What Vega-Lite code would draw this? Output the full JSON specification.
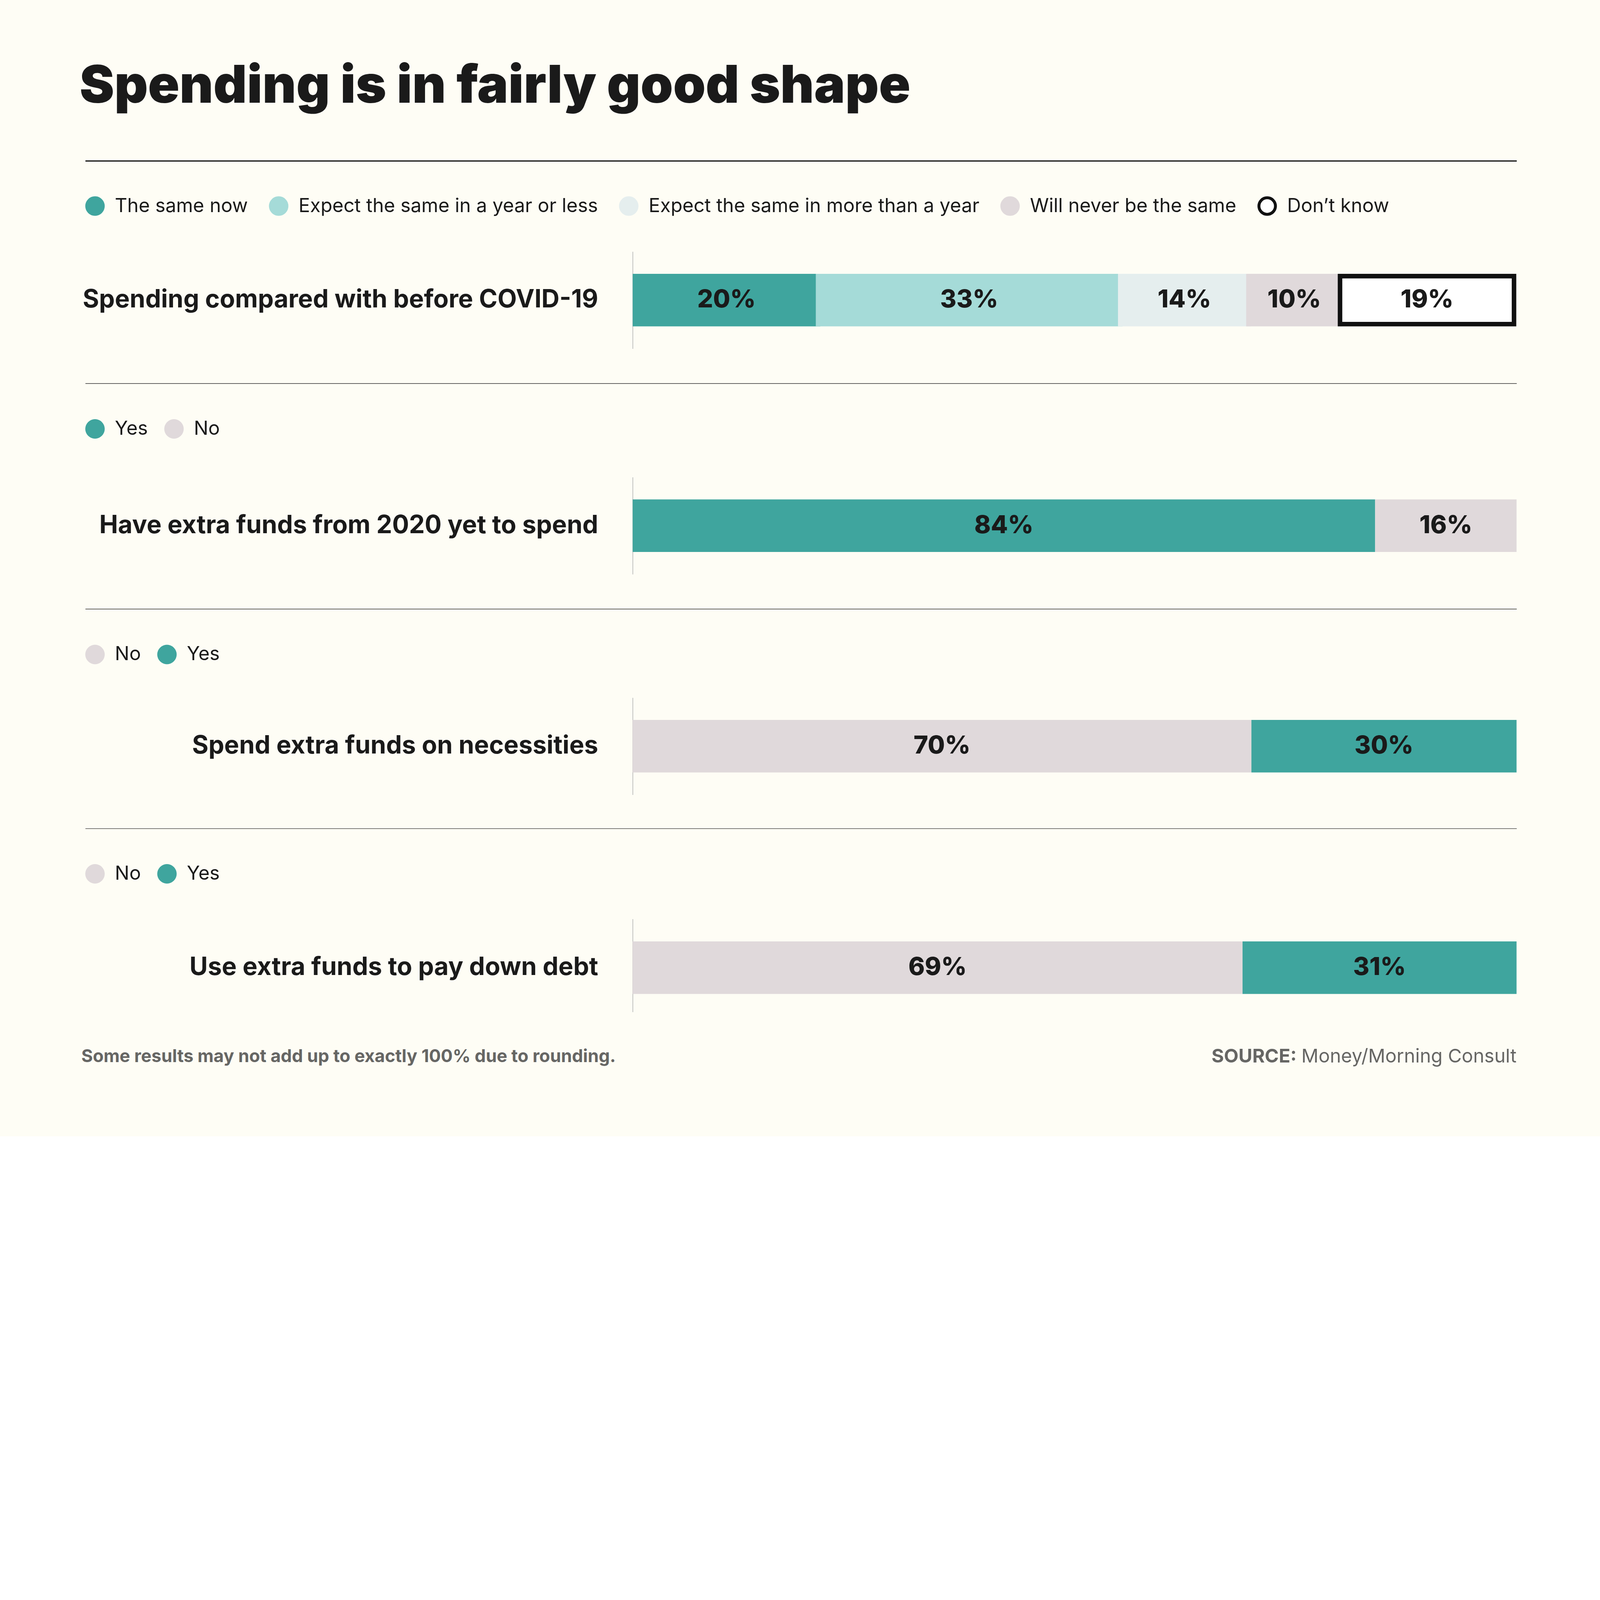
{
  "$schema": "https://vega.github.io/schema/vega-lite/v6.json",
  "background": "#fefdf5",
  "padding": {"left": 203.2, "right": 218, "top": 155.6, "bottom": 178},
  "title": {"text": "Spending is in fairly good shape", "anchor": "start", "frame": "bounds", "font": "Inter", "fontSize": 133.4, "fontWeight": 900, "color": "#1a1a1a", "offset": 118.8, "dx": -4.4},
  "datasets": {
    "survey": [
      {"question": "Spending compared with before COVID-19", "answer": "The same now", "value": 20},
      {"question": "Spending compared with before COVID-19", "answer": "Expect the same in a year or less", "value": 33},
      {"question": "Spending compared with before COVID-19", "answer": "Expect the same in more than a year", "value": 14},
      {"question": "Spending compared with before COVID-19", "answer": "Will never be the same", "value": 10},
      {"question": "Spending compared with before COVID-19", "answer": "Don’t know", "value": 19},
      {"question": "Have extra funds from 2020 yet to spend", "answer": "Yes", "value": 84},
      {"question": "Have extra funds from 2020 yet to spend", "answer": "No", "value": 16},
      {"question": "Spend extra funds on necessities", "answer": "No", "value": 70},
      {"question": "Spend extra funds on necessities", "answer": "Yes", "value": 30},
      {"question": "Use extra funds to pay down debt", "answer": "No", "value": 69},
      {"question": "Use extra funds to pay down debt", "answer": "Yes", "value": 31}
    ],
    "footer": [
      {"kind": "note", "part": "note", "text": "Some results may not add up to exactly 100% due to rounding."},
      {"kind": "source", "part": "label", "text": "SOURCE:"},
      {"kind": "source", "part": "name", "text": "Money/Morning Consult"}
    ]
  },
  "spacing": 90.5,
  "vconcat": [
    {
      "width": 3664.2,
      "height": 1,
      "data": {"values": [{}]},
      "mark": {"type": "point", "opacity": 0, "size": 0},
      "encoding": {
        "x": {"datum": 0, "type": "quantitative", "scale": {"domain": [0, 1]},
          "axis": {"orient": "bottom", "domain": true, "domainColor": "#1a1a1a", "domainWidth": 3.4, "ticks": false, "labels": false, "grid": false, "title": null}}
      }
    },
    {
      "width": 3664.2,
      "height": 248.5,
      "data": {"name": "survey"},
      "transform": [
        {"window": [{"op": "row_number", "as": "seq"}]},
        {"filter": "datum.question === 'Spending compared with before COVID-19'"},
        {"stack": "value", "groupby": ["question"], "sort": [{"field": "seq", "order": "ascending"}], "offset": "normalize", "as": ["x0", "x1"]},
        {"calculate": "(datum.x0 + datum.x1) / 2", "as": "xmid"},
        {"calculate": "datum.value + '%'", "as": "label"}
      ],
      "encoding": {
        "y": {"field": "question", "type": "nominal", "scale": {"paddingInner": 0, "paddingOuter": 0.5111},
          "axis": {"orient": "left", "offset": -1401.4, "domainColor": "#b8b8b8", "domainWidth": 1.7, "ticks": false, "grid": false, "title": null, "labelFont": "Inter", "labelFontSize": 64, "labelFontWeight": 700, "labelColor": "#1a1a1a", "labelPadding": 88.7, "labelLimit": 0}}
      },
      "layer": [
        {
          "mark": {"type": "bar", "strokeWidth": 11.6},
          "encoding": {
            "x": {"field": "x0", "type": "quantitative", "scale": {"domain": [-0.6253, 1.0029], "nice": false, "zero": false},
              "axis": {"orient": "bottom", "offset": 88.7, "domainColor": "#333333", "domainWidth": 1.4, "ticks": false, "labels": false, "grid": false, "title": null}},
            "x2": {"field": "x1"},
            "fill": {"field": "answer", "type": "nominal",
              "scale": {"domain": ["The same now", "Expect the same in a year or less", "Expect the same in more than a year", "Will never be the same", "Don’t know"], "range": ["#3fa59e", "#a5dbd8", "#e5eeee", "#e0d9db", "#ffffff"]},
              "legend": {"title": null, "offset": 79.9, "symbolSize": 1790, "symbolStrokeWidth": 7.5}},
            "stroke": {"field": "answer", "type": "nominal",
              "scale": {"domain": ["The same now", "Expect the same in a year or less", "Expect the same in more than a year", "Will never be the same", "Don’t know"], "range": ["#3fa59e", "#a5dbd8", "#e5eeee", "#e0d9db", "#111111"]},
              "legend": {"title": null, "offset": 79.9, "symbolSize": 1790, "symbolStrokeWidth": 7.5}}
          }
        },
        {
          "mark": {"type": "text", "font": "Inter", "fontSize": 63.5, "fontWeight": 800, "color": "#1a1a1a", "baseline": "middle"},
          "encoding": {
            "x": {"field": "xmid", "type": "quantitative"},
            "text": {"field": "label"}
          }
        }
      ]
    },
    {
      "width": 3664.2,
      "height": 248.5,
      "data": {"name": "survey"},
      "transform": [
        {"window": [{"op": "row_number", "as": "seq"}]},
        {"filter": "datum.question === 'Have extra funds from 2020 yet to spend'"},
        {"stack": "value", "groupby": ["question"], "sort": [{"field": "seq", "order": "ascending"}], "offset": "normalize", "as": ["x0", "x1"]},
        {"calculate": "(datum.x0 + datum.x1) / 2", "as": "xmid"},
        {"calculate": "datum.value + '%'", "as": "label"}
      ],
      "encoding": {
        "y": {"field": "question", "type": "nominal", "scale": {"paddingInner": 0, "paddingOuter": 0.4239},
          "axis": {"orient": "left", "offset": -1401.4, "domainColor": "#b8b8b8", "domainWidth": 1.7, "ticks": false, "grid": false, "title": null, "labelFont": "Inter", "labelFontSize": 64, "labelFontWeight": 700, "labelColor": "#1a1a1a", "labelPadding": 88.7, "labelLimit": 0}}
      },
      "layer": [
        {
          "mark": {"type": "bar"},
          "encoding": {
            "x": {"field": "x0", "type": "quantitative", "scale": {"domain": [-0.6193, 1], "nice": false, "zero": false},
              "axis": {"orient": "bottom", "offset": 88.7, "domainColor": "#333333", "domainWidth": 1.4, "ticks": false, "labels": false, "grid": false, "title": null}},
            "x2": {"field": "x1"},
            "fill": {"field": "answer", "type": "nominal",
              "scale": {"domain": ["Yes", "No"], "range": ["#3fa59e", "#e0d9db"]},
              "legend": {"title": null, "offset": 97.7}}
          }
        },
        {
          "mark": {"type": "text", "font": "Inter", "fontSize": 63.5, "fontWeight": 800, "color": "#1a1a1a", "baseline": "middle"},
          "encoding": {
            "x": {"field": "xmid", "type": "quantitative"},
            "text": {"field": "label"}
          }
        }
      ]
    },
    {
      "width": 3664.2,
      "height": 248.5,
      "data": {"name": "survey"},
      "transform": [
        {"window": [{"op": "row_number", "as": "seq"}]},
        {"filter": "datum.question === 'Spend extra funds on necessities'"},
        {"stack": "value", "groupby": ["question"], "sort": [{"field": "seq", "order": "ascending"}], "offset": "normalize", "as": ["x0", "x1"]},
        {"calculate": "(datum.x0 + datum.x1) / 2", "as": "xmid"},
        {"calculate": "datum.value + '%'", "as": "label"}
      ],
      "encoding": {
        "y": {"field": "question", "type": "nominal", "scale": {"paddingInner": 0, "paddingOuter": 0.4239},
          "axis": {"orient": "left", "offset": -1401.4, "domainColor": "#b8b8b8", "domainWidth": 1.7, "ticks": false, "grid": false, "title": null, "labelFont": "Inter", "labelFontSize": 64, "labelFontWeight": 700, "labelColor": "#1a1a1a", "labelPadding": 88.7, "labelLimit": 0}}
      },
      "layer": [
        {
          "mark": {"type": "bar"},
          "encoding": {
            "x": {"field": "x0", "type": "quantitative", "scale": {"domain": [-0.6193, 1], "nice": false, "zero": false},
              "axis": {"orient": "bottom", "offset": 86.3, "domainColor": "#333333", "domainWidth": 1.4, "ticks": false, "labels": false, "grid": false, "title": null}},
            "x2": {"field": "x1"},
            "fill": {"field": "answer", "type": "nominal",
              "scale": {"domain": ["No", "Yes"], "range": ["#e0d9db", "#3fa59e"]},
              "legend": {"title": null, "offset": 84.6}}
          }
        },
        {
          "mark": {"type": "text", "font": "Inter", "fontSize": 63.5, "fontWeight": 800, "color": "#1a1a1a", "baseline": "middle"},
          "encoding": {
            "x": {"field": "xmid", "type": "quantitative"},
            "text": {"field": "label"}
          }
        }
      ]
    },
    {
      "width": 3664.2,
      "height": 238,
      "data": {"name": "survey"},
      "transform": [
        {"window": [{"op": "row_number", "as": "seq"}]},
        {"filter": "datum.question === 'Use extra funds to pay down debt'"},
        {"stack": "value", "groupby": ["question"], "sort": [{"field": "seq", "order": "ascending"}], "offset": "normalize", "as": ["x0", "x1"]},
        {"calculate": "(datum.x0 + datum.x1) / 2", "as": "xmid"},
        {"calculate": "datum.value + '%'", "as": "label"}
      ],
      "encoding": {
        "y": {"field": "question", "type": "nominal", "scale": {"paddingInner": 0, "paddingOuter": 0.3848, "align": 0.5556},
          "axis": {"orient": "left", "offset": -1401.4, "domainColor": "#b8b8b8", "domainWidth": 1.7, "ticks": false, "grid": false, "title": null, "labelFont": "Inter", "labelFontSize": 64, "labelFontWeight": 700, "labelColor": "#1a1a1a", "labelPadding": 88.7, "labelLimit": 0}}
      },
      "layer": [
        {
          "mark": {"type": "bar"},
          "encoding": {
            "x": {"field": "x0", "type": "quantitative", "scale": {"domain": [-0.6193, 1], "nice": false, "zero": false}, "axis": null},
            "x2": {"field": "x1"},
            "fill": {"field": "answer", "type": "nominal",
              "scale": {"domain": ["No", "Yes"], "range": ["#e0d9db", "#3fa59e"]},
              "legend": {"title": null, "offset": 89.7}}
          }
        },
        {
          "mark": {"type": "text", "font": "Inter", "fontSize": 63.5, "fontWeight": 800, "color": "#1a1a1a", "baseline": "middle"},
          "encoding": {
            "x": {"field": "xmid", "type": "quantitative"},
            "text": {"field": "label"}
          }
        }
      ]
    },
    {
      "width": 3664.2,
      "height": 48.5,
      "data": {"name": "footer"},
      "encoding": {
        "x": {"field": "kind", "type": "nominal", "scale": {"type": "point", "domain": ["note", "source"], "padding": 0}, "axis": null}
      },
      "layer": [
        {
          "transform": [{"filter": "datum.part === 'note'"}],
          "mark": {"type": "text", "align": "left", "baseline": "middle", "font": "Inter", "fontSize": 45, "fontWeight": 700, "color": "#666664", "dx": -10},
          "encoding": {"text": {"field": "text"}}
        },
        {
          "transform": [{"filter": "datum.part === 'name'"}],
          "mark": {"type": "text", "align": "right", "baseline": "middle", "font": "Inter", "fontSize": 48.5, "fontWeight": 400, "color": "#666664"},
          "encoding": {"text": {"field": "text"}}
        },
        {
          "transform": [{"filter": "datum.part === 'label'"}],
          "mark": {"type": "text", "align": "right", "baseline": "middle", "font": "Inter", "fontSize": 48.5, "fontWeight": 700, "color": "#666664", "dx": -563},
          "encoding": {"text": {"field": "text"}}
        }
      ]
    }
  ],
  "resolve": {
    "scale": {"x": "independent", "y": "independent", "fill": "independent", "stroke": "independent"},
    "axis": {"x": "independent", "y": "independent"},
    "legend": {"fill": "independent", "stroke": "independent"}
  },
  "config": {
    "view": {"stroke": null},
    "font": "Inter",
    "axis": {"grid": false},
    "legend": {"orient": "top", "direction": "horizontal", "labelFont": "Inter", "labelFontSize": 49.2, "labelColor": "#1a1a1a", "labelOffset": 25.9, "columnPadding": 41.2, "symbolType": "circle", "symbolSize": 2480, "symbolStrokeWidth": 0, "labelLimit": 0, "padding": 0, "titlePadding": 0}
  }
}
